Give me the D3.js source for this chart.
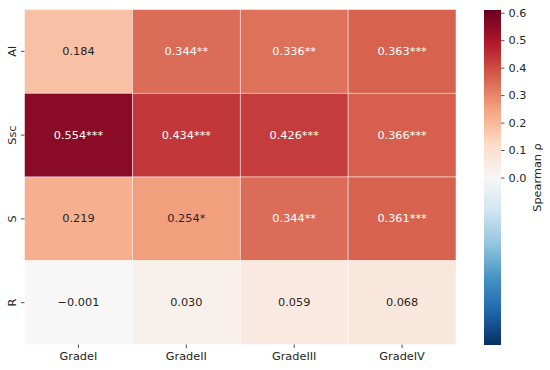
<!DOCTYPE html>
<html><head><meta charset="utf-8">
<script src="https://cdn.jsdelivr.net/npm/d3@7"></script>
<style>
html,body{margin:0;padding:0;background:#fff;}
text{font-family:"DejaVu Sans",sans-serif;}
</style></head>
<body><div id="chart"></div>
<script>
const rows = ["Al", "Ssc", "S", "R"];
const cols = ["GradeI", "GradeII", "GradeIII", "GradeIV"];
const valuesAl  = [0.184, 0.344, 0.336, 0.363];
const valuesSsc = [0.554, 0.434, 0.426, 0.366];
const valuesS   = [0.219, 0.254, 0.344, 0.361];
const valuesR   = [-0.001, 0.030, 0.059, 0.068];
const starsAl  = ["", "**", "**", "***"];
const starsSsc = ["***", "***", "***", "***"];
const starsS   = ["", "*", "**", "***"];
const starsR   = ["", "", "", ""];
const cbarTicks = [0.0, 0.1, 0.2, 0.3, 0.4, 0.5, 0.6];
const vmin = -0.61, vmax = 0.61;
const cbarLabel = "Spearman ρ";

(function () {
const allValues = [valuesAl, valuesSsc, valuesS, valuesR];
const allStars = [starsAl, starsSsc, starsS, starsR];
const cells = [];
rows.forEach((r, i) => cols.forEach((c, j) => cells.push({row: r, col: c, v: allValues[i][j], s: allStars[i][j]})));

// matplotlib RdBu_r
const rdbu = ["#67001f","#b2182b","#d6604d","#f4a582","#fddbc7","#f7f7f7","#d1e5f0","#92c5de","#4393c3","#2166ac","#053061"].reverse();
const cmap = d3.scaleLinear().domain(d3.range(11).map(i => i / 10)).range(rdbu).interpolate(d3.interpolateRgb).clamp(true);
const norm = d3.scaleLinear().domain([vmin, vmax]).range([0, 1]).clamp(true);
const color = v => cmap(norm(v));

function lum(c) {
  const rgb = d3.rgb(c);
  const f = x => { x /= 255; return x <= 0.03928 ? x / 12.92 : Math.pow((x + 0.055) / 1.055, 2.4); };
  return 0.2126 * f(rgb.r) + 0.7152 * f(rgb.g) + 0.0722 * f(rgb.b);
}

const W = 550, H = 370;
const svg = d3.select("#chart").append("svg").attr("width", W).attr("height", H);
const mLeft = 24.5, mRight = 456, mTop = 9.5, mBottom = 344.5;
const x = d3.scaleBand().domain(cols).range([mLeft, mRight]);
const y = d3.scaleBand().domain(rows).range([mTop, mBottom]);
const fs = 11.3;
const dark = "#262626";

svg.append("g").selectAll("rect").data(cells).join("rect")
  .attr("x", d => x(d.col)).attr("y", d => y(d.row))
  .attr("width", x.bandwidth()).attr("height", y.bandwidth())
  .attr("fill", d => color(d.v))
  .attr("stroke", "#fff").attr("stroke-width", 0.6).attr("stroke-opacity", 0.8);

svg.append("g").selectAll("text").data(cells).join("text")
  .attr("x", d => x(d.col) + x.bandwidth() / 2)
  .attr("y", d => y(d.row) + y.bandwidth() / 2)
  .attr("text-anchor", "middle").attr("dominant-baseline", "central")
  .attr("font-size", fs)
  .attr("fill", d => lum(color(d.v)) > 0.408 ? dark : "#fff")
  .text(d => (d.v < 0 ? "\u2212" + Math.abs(d.v).toFixed(3) : d.v.toFixed(3)) + d.s);

// x axis
const xg = svg.append("g").attr("transform", `translate(0,${mBottom})`)
  .call(d3.axisBottom(x).tickSize(3.5).tickPadding(4));
xg.select(".domain").remove();
xg.selectAll("line").attr("stroke", dark).attr("stroke-width", 0.8);
xg.selectAll("text").attr("font-size", fs).attr("fill", dark).attr("font-family", "DejaVu Sans");

// y axis
const yg = svg.append("g").attr("transform", `translate(${mLeft},0)`)
  .call(d3.axisLeft(y).tickSize(3.5).tickPadding(4));
yg.select(".domain").remove();
yg.selectAll("line").attr("stroke", dark).attr("stroke-width", 0.8);
yg.selectAll("text").attr("font-size", fs).attr("fill", dark).attr("font-family", "DejaVu Sans")
  .attr("x", null).attr("dy", null)
  .attr("text-anchor", "middle").attr("dominant-baseline", "central")
  .attr("transform", "translate(-12,0) rotate(-90)");

// colorbar
const cbX = 484, cbW = 17, cbTop = 10, cbBottom = 345;
const cy = d3.scaleLinear().domain([vmin, vmax]).range([cbBottom, cbTop]);
const defs = svg.append("defs");
const grad = defs.append("linearGradient").attr("id", "cbg").attr("x1", 0).attr("y1", 1).attr("x2", 0).attr("y2", 0);
d3.range(0, 101).forEach(i => {
  grad.append("stop").attr("offset", i / 100).attr("stop-color", cmap(i / 100));
});
svg.append("rect").attr("x", cbX).attr("y", cbTop).attr("width", cbW).attr("height", cbBottom - cbTop).attr("fill", "url(#cbg)");
const cg = svg.append("g").attr("transform", `translate(${cbX + cbW},0)`)
  .call(d3.axisRight(cy).tickValues(cbarTicks).tickFormat(d3.format(".1f")).tickSize(3.5).tickPadding(4));
cg.select(".domain").remove();
cg.selectAll("line").attr("stroke", dark).attr("stroke-width", 0.8);
cg.selectAll("text").attr("font-size", fs).attr("fill", dark).attr("font-family", "DejaVu Sans");
svg.append("text").attr("transform", `translate(537,${(cbTop + cbBottom) / 2}) rotate(-90)`)
  .attr("text-anchor", "middle").attr("dominant-baseline", "central")
  .attr("font-size", fs).attr("fill", dark).text(cbarLabel);
})();
</script></body></html>
